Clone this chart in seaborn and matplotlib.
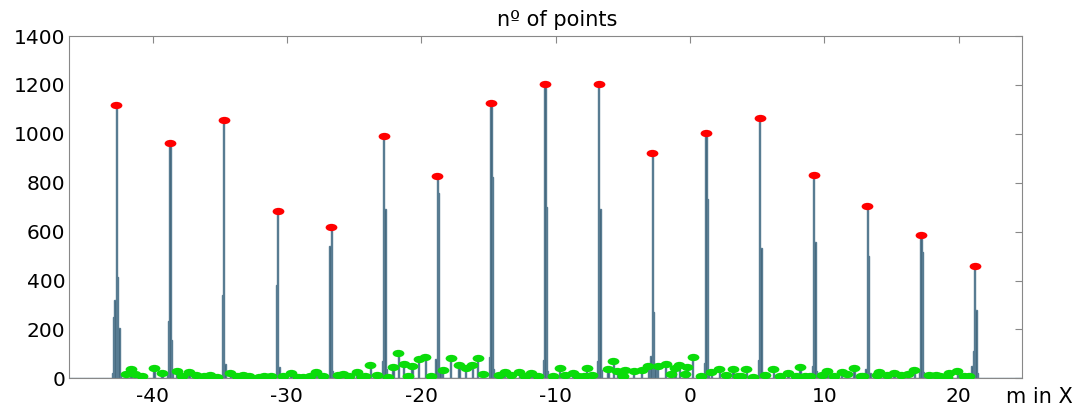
import numpy as np
import pandas as pd
import seaborn as sns
import matplotlib.pyplot as plt
from matplotlib.path import Path
from matplotlib.transforms import Affine2D

# main peaks (red dots), metres along X and number of points
peak_x = [-42.7, -38.7, -34.7, -30.7, -26.7, -22.8, -18.8, -14.8, -10.8,
          -6.8, -2.8, 1.2, 5.2, 9.2, 13.2, 17.2, 21.2]
peak_h = [1118, 961, 1058, 685, 620, 991, 827, 1126, 1202,
          1205, 921, 1003, 1066, 830, 703, 586, 461]

# neighbouring bins of every peak
side_x = [-43.0, -42.9, -42.8, -42.6, -42.5, -42.4,
          -38.9, -38.8, -38.6, -38.5,
          -34.8, -34.6,
          -30.8, -30.6,
          -26.8, -26.6,
          -22.9, -22.7, -22.6,
          -18.9, -18.7, -18.6,
          -14.9, -14.7, -14.6,
          -10.9, -10.7, -10.6,
          -6.9, -6.7, -6.6,
          -2.9, -2.7, -2.6,
          1.1, 1.3, 1.4,
          5.1, 5.3, 5.4,
          9.1, 9.3, 9.4,
          13.1, 13.3, 13.4,
          17.1, 17.3, 17.4,
          21.0, 21.1, 21.3, 21.4]
side_h = [20, 252, 320, 415, 204, 15,
          20, 234, 155, 20,
          341, 57,
          382, 45,
          541, 30,
          71, 691, 40,
          79, 757, 30,
          88, 825, 40,
          75, 702, 30,
          71, 694, 35,
          90, 271, 40,
          61, 733, 30,
          75, 532, 25,
          50, 557, 30,
          40, 500, 20,
          40, 517, 25,
          50, 110, 280, 20]

# small local maxima between the peaks (green dots)
green_x = [-42.0, -41.6, -41.3, -40.8, -39.9, -39.3, -38.2, -37.8, -37.3, -36.8,
           -36.2, -35.7, -35.2, -34.2, -33.7, -33.3, -32.8, -32.1, -31.7, -31.2,
           -30.3, -29.7, -29.2, -28.8, -28.3, -27.8, -27.3, -26.2, -25.8, -25.4,
           -24.8, -24.4, -24.2, -23.8, -23.3, -22.5, -22.1, -21.7, -21.3, -21.0,
           -20.7, -20.2, -19.7, -19.3, -18.4, -17.8, -17.2, -16.7, -16.2, -15.8,
           -15.4, -14.2, -13.8, -13.3, -12.7, -12.3, -11.8, -11.3, -10.2, -9.7,
           -9.3, -8.7, -8.3, -7.9, -7.7, -7.3, -6.1, -5.7, -5.4, -5.0,
           -4.8, -4.2, -3.6, -3.1, -2.4, -1.8, -1.4, -1.1, -0.8, -0.4,
           -0.2, 0.2, 0.8, 1.6, 2.2, 2.7, 3.2, 3.6, 3.8, 4.2,
           4.7, 5.6, 6.2, 6.7, 7.3, 7.9, 8.2, 8.6, 8.9, 9.8,
           10.2, 10.7, 11.3, 11.7, 12.2, 12.7, 12.9, 13.9, 14.1, 14.7,
           15.2, 15.7, 16.2, 16.7, 17.8, 18.3, 18.6, 19.1, 19.3, 19.9,
           20.4, 20.8]
green_h = [19, 36, 19, 8, 42, 23, 30, 10, 25, 15,
           10, 14, 7, 22, 8, 12, 11, 7, 10, 10,
           10, 21, 7, 7, 11, 25, 11, 15, 18, 10,
           27, 5, 11, 55, 14, 5, 46, 102, 59, 10,
           50, 79, 86, 11, 33, 83, 53, 44, 56, 82,
           19, 14, 26, 12, 27, 11, 20, 11, 11, 41,
           12, 20, 11, 8, 44, 12, 37, 71, 30, 11,
           33, 30, 35, 52, 50, 57, 18, 41, 55, 18,
           48, 87, 11, 27, 37, 14, 38, 10, 8, 40,
           7, 14, 37, 10, 20, 10, 48, 10, 8, 14,
           29, 11, 25, 18, 44, 8, 8, 15, 26, 12,
           23, 12, 18, 33, 12, 12, 11, 4, 23, 30,
           11, 8]

bars = pd.DataFrame({
    "x": peak_x + side_x + green_x,
    "count": peak_h + side_h + green_h,
})

sns.set_style("white")
plt.rcParams["font.family"] = ["DejaVu Sans"]
plt.rcParams["axes.unicode_minus"] = False
plt.rcParams["text.color"] = "black"

fig = plt.figure(figsize=(10.81, 4.12), dpi=100)
ax = fig.add_axes([0.0641, 0.0818, 0.8811, 0.8308])

sns.histplot(data=bars, x="x", weights="count", binwidth=0.1,
             binrange=(-46.25, 24.75), color="#3b5d72", edgecolor="#587c92",
             linewidth=1.0, alpha=1, ax=ax)

# ellipse shaped markers like the original
oval = Path.unit_circle().transformed(Affine2D().scale(1, 0.62))
sns.scatterplot(x=green_x, y=green_h, marker=oval, s=72, color="#0adc0a",
                linewidth=0, zorder=3, ax=ax)
sns.scatterplot(x=peak_x, y=peak_h, marker=oval, s=72, color="#ff0000",
                linewidth=0, zorder=4, ax=ax)

ax.set_xlim(-46.2, 24.7)
ax.set_ylim(0, 1400)
ax.set_xticks(np.arange(-40, 21, 10))
ax.set_yticks(np.arange(0, 1401, 200))
ax.tick_params(direction="in", length=5, width=0.8, color="#888888",
               labelsize=14.5, top=True, right=True, labelcolor="black")
ax.tick_params(axis="x", pad=6)
ax.tick_params(axis="y", pad=3)
for sp in ax.spines.values():
    sp.set_color("#888888")
    sp.set_linewidth(0.8)

ax.set_ylabel("")
ax.set_xlabel("m in X", fontsize=15, va="center", color="black")
ax.xaxis.set_label_coords(1.019, -0.054)
ax.set_title("nº of points", fontsize=15, pad=7, x=0.512, color="black")

fig.savefig("out.png", dpi=100)
